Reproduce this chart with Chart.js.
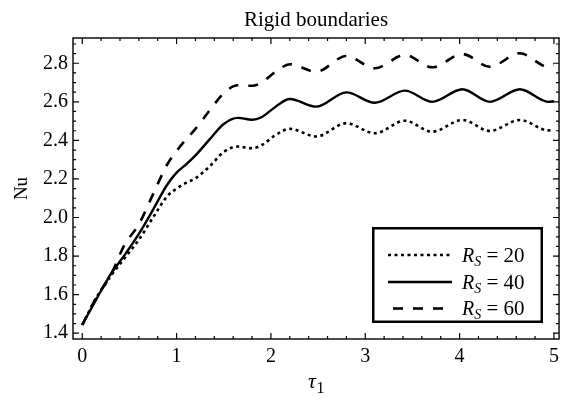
<!DOCTYPE html>
<html><head><meta charset="utf-8">
<script src="https://cdn.jsdelivr.net/npm/chart.js@4.4.0/dist/chart.umd.min.js"></script>
<style>html,body{margin:0;padding:0;background:#fff;}canvas{display:block;}</style>
</head><body>
<canvas id="c" width="565" height="400"></canvas>
<script>
// ---- data ----
const tau    = [0, 0.15, 0.3, 0.45, 0.6, 0.75, 0.9, 1.0, 1.1, 1.2, 1.35, 1.5, 1.65, 1.8, 1.9, 2.05, 2.2, 2.48, 2.8, 3.1, 3.42, 3.71, 4.03, 4.32, 4.64, 4.94, 5.0];
const nuRs20 = [1.443, 1.585, 1.695, 1.79, 1.885, 2.0, 2.11, 2.15, 2.18, 2.203, 2.265, 2.34, 2.368, 2.359, 2.375, 2.428, 2.46, 2.42, 2.489, 2.437, 2.502, 2.445, 2.506, 2.449, 2.506, 2.452, 2.455];
const nuRs40 = [1.443, 1.577, 1.705, 1.806, 1.915, 2.04, 2.17, 2.233, 2.275, 2.322, 2.405, 2.485, 2.517, 2.507, 2.52, 2.575, 2.615, 2.575, 2.649, 2.595, 2.658, 2.60, 2.665, 2.60, 2.665, 2.60, 2.603];
const nuRs60 = [1.443, 1.585, 1.70, 1.86, 1.965, 2.12, 2.275, 2.345, 2.405, 2.46, 2.555, 2.645, 2.686, 2.683, 2.70, 2.756, 2.795, 2.756, 2.838, 2.774, 2.843, 2.779, 2.848, 2.782, 2.852, 2.782, 2.79];
const rsValues = ['20', '40', '60'];
const xTickValues = [0, 1, 2, 3, 4, 5];
const yTickValues = [1.4, 1.6, 1.8, 2.0, 2.2, 2.4, 2.6, 2.8];
const titleText = 'Rigid boundaries';
const yTitleText = 'Nu';

const SERIF = '"Liberation Serif", "Times New Roman", serif';
const styles = [
  { dash: [3, 3.5], width: 2.6 },
  { dash: [], width: 2.4 },
  { dash: [10, 10], width: 2.6 }
];
const seriesValues = [nuRs20, nuRs40, nuRs60];

const datasets = seriesValues.map((vals, k) => ({
  label: 'R_S = ' + rsValues[k],
  data: tau.map((t, i) => ({ x: t, y: vals[i] })),
  borderColor: '#000',
  backgroundColor: '#000',
  borderWidth: styles[k].width,
  borderDash: styles[k].dash,
  borderCapStyle: 'butt',
  pointRadius: 0,
  fill: false,
  cubicInterpolationMode: 'monotone'
}));

const framePlugin = {
  id: 'frame',
  afterDraw(chart) {
    const { ctx, chartArea: a, scales: { x, y } } = chart;
    ctx.save();
    ctx.strokeStyle = '#000';
    ctx.lineWidth = 1.4;
    ctx.strokeRect(a.left, a.top, a.right - a.left, a.bottom - a.top);
    ctx.lineWidth = 1.2;
    ctx.beginPath();
    for (let i = -5; i <= 30; i++) {
      const v = i * 0.2;
      const px = x.getPixelForValue(v);
      if (px < a.left + 1 || px > a.right - 1) continue;
      const len = (i % 5 === 0) ? 6 : 3;
      ctx.moveTo(px, a.bottom); ctx.lineTo(px, a.bottom - len);
      ctx.moveTo(px, a.top); ctx.lineTo(px, a.top + len);
    }
    for (let i = 26; i <= 60; i++) {
      const v = i * 0.05;
      const py = y.getPixelForValue(v);
      if (py < a.top + 1 || py > a.bottom - 1) continue;
      const len = (i % 4 === 0) ? 6 : 3;
      ctx.moveTo(a.left, py); ctx.lineTo(a.left + len, py);
      ctx.moveTo(a.right, py); ctx.lineTo(a.right - len, py);
    }
    ctx.stroke();

    // x axis title: tau with subscript 1
    ctx.fillStyle = '#000';
    ctx.textBaseline = 'alphabetic';
    ctx.textAlign = 'left';
    const cx = (a.left + a.right) / 2;
    ctx.font = 'italic 22px ' + SERIF;
    const wT = ctx.measureText('τ').width;
    ctx.font = '16px ' + SERIF;
    const w1 = ctx.measureText('1').width;
    const sx = cx - (wT + w1) / 2;
    ctx.font = 'italic 22px ' + SERIF;
    ctx.fillText('τ', sx, 388);
    ctx.font = '16px ' + SERIF;
    ctx.fillText('1', sx + wT + 0.5, 393);

    // legend box
    const L = { x0: 372, y0: 227, x1: 543, y1: 323 };
    ctx.lineWidth = 2.5;
    ctx.setLineDash([]);
    ctx.fillStyle = '#fff';
    ctx.fillRect(L.x0, L.y0, L.x1 - L.x0, L.y1 - L.y0);
    ctx.strokeRect(L.x0 + 1.25, L.y0 + 1.25, L.x1 - L.x0 - 2.5, L.y1 - L.y0 - 2.5);
    const rows = [255, 282, 308.5];
    chart.data.datasets.forEach((ds, k) => {
      const ry = rows[k];
      ctx.beginPath();
      ctx.lineWidth = ds.borderWidth;
      ctx.setLineDash(ds.borderDash);
      ctx.lineDashOffset = k === 2 ? -5 : 0;
      ctx.strokeStyle = '#000';
      ctx.moveTo(388, ry); ctx.lineTo(452, ry);
      ctx.stroke();
      ctx.setLineDash([]);
      ctx.fillStyle = '#000';
      let tx = 462;
      const base = ry + 6.5;
      ctx.font = 'italic 20px ' + SERIF;
      ctx.fillText('R', tx, base);
      tx += ctx.measureText('R').width;
      ctx.font = 'italic 14px ' + SERIF;
      ctx.fillText('S', tx, base + 4);
      tx += ctx.measureText('S').width;
      ctx.font = '21px ' + SERIF;
      ctx.fillText(' = ' + rsValues[k], tx, base);
    });
    ctx.restore();
  }
};

new Chart(document.getElementById('c'), {
  type: 'line',
  data: { datasets },
  plugins: [framePlugin],
  options: {
    responsive: false,
    animation: false,
    devicePixelRatio: 1,
    layout: { padding: { left: 0, right: 5, top: 0, bottom: 0 } },
    plugins: {
      legend: { display: false },
      tooltip: { enabled: false },
      title: {
        display: true,
        text: titleText,
        fullSize: false,
        color: '#000',
        font: { family: SERIF, size: 21, weight: 'normal', lineHeight: 1.2 },
        padding: { top: 8, bottom: 4.8 }
      }
    },
    scales: {
      x: {
        type: 'linear',
        min: -0.098,
        max: 5.054,
        grid: { display: false, drawTicks: false },
        border: { display: false },
        afterBuildTicks: (s) => { s.ticks = xTickValues.map(v => ({ value: v })); },
        afterFit: (s) => { s.height = 61; },
        ticks: {
          color: '#000',
          padding: 6,
          maxRotation: 0,
          autoSkip: false,
          font: { family: SERIF, size: 20 },
          callback: (v) => String(v)
        }
      },
      y: {
        type: 'linear',
        min: 1.370,
        max: 2.931,
        grid: { display: false, drawTicks: false },
        border: { display: false },
        afterBuildTicks: (s) => { s.ticks = yTickValues.map(v => ({ value: v })); },
        afterFit: (s) => { s.width = 73; },
        title: {
          display: true,
          text: yTitleText,
          color: '#000',
          font: { family: SERIF, size: 19 },
          padding: { top: 11, bottom: 0 }
        },
        ticks: {
          color: '#000',
          padding: 5,
          autoSkip: false,
          font: { family: SERIF, size: 20 },
          callback: (v) => Number(v).toFixed(1)
        }
      }
    }
  }
});
</script>
</body></html>
